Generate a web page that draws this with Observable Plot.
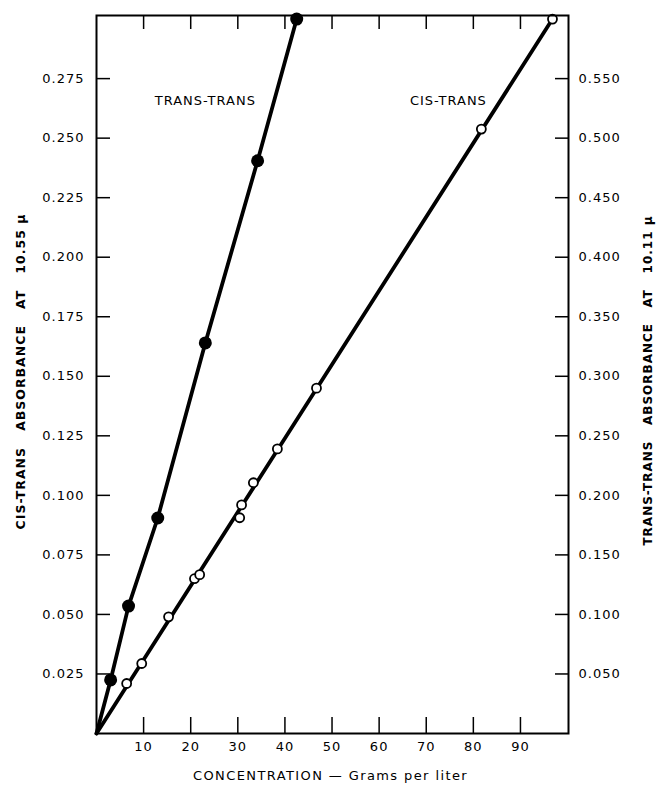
<!DOCTYPE html>
<html>
<head>
<meta charset="utf-8">
<script src="https://cdn.jsdelivr.net/npm/d3@7"></script>
<script src="https://cdn.jsdelivr.net/npm/@observablehq/plot@0.6"></script>
<style>
  html, body { margin: 0; padding: 0; background: #fff; }
  #chart { width: 658px; height: 792px; }
</style>
</head>
<body>
<div id="chart"></div>
<script>
// Trans-trans (filled dots), absorbance at 10.11 µ (right axis)
const ttConc = [3.0, 6.8, 13.0, 23.1, 34.2, 42.5];
const ttAbs = [0.045, 0.107, 0.181, 0.328, 0.481, 0.600];
// Cis-trans (open dots), absorbance at 10.55 µ (left axis)
const ctConc = [6.4, 9.6, 15.3, 20.8, 21.9, 30.4, 30.8, 33.3, 38.4, 46.7, 81.7, 96.8];
const ctAbs = [0.021, 0.0294, 0.049, 0.065, 0.0667, 0.0906, 0.096, 0.1053, 0.1195, 0.145, 0.2538, 0.300];
// Straight cis-trans line endpoints as drawn
const ctLineConc = [0, 96.8];
const ctLineAbs = [0, 0.300];
// Tick values
const xTicks = [10, 20, 30, 40, 50, 60, 70, 80, 90];
const leftTicks = [0.025, 0.050, 0.075, 0.100, 0.125, 0.150, 0.175, 0.200, 0.225, 0.250, 0.275];
const rightTicks = [0.050, 0.100, 0.150, 0.200, 0.250, 0.300, 0.350, 0.400, 0.450, 0.500, 0.550];
// Text
const leftLabel = "CIS-TRANS\u00a0\u00a0\u00a0ABSORBANCE\u00a0\u00a0\u00a0AT\u00a0\u00a0\u00a010.55\u00a0\u03bc";
const rightLabel = "TRANS-TRANS\u00a0\u00a0\u00a0ABSORBANCE\u00a0\u00a0\u00a0AT\u00a0\u00a0\u00a010.11\u00a0\u03bc";
const xLabel = "CONCENTRATION \u2014 Grams per liter";
const seriesLabels = [
  {name: "TRANS-TRANS", conc: 23.1, abs: 0.2655},
  {name: "CIS-TRANS", conc: 74.7, abs: 0.2655}
];

// Right axis is twice the left axis
const ratio = 2;
const tt = ttConc.map((c, i) => ({c, a: ttAbs[i] / ratio}));
const ttLine = [{c: 0, a: 0}, ...tt];
const ct = ctConc.map((c, i) => ({c, a: ctAbs[i]}));
const ctLine = ctLineConc.map((c, i) => ({c, a: ctLineAbs[i]}));

const W = 658, H = 792;
const mL = 96, mR = 90, mT = 15, mB = 59;
const fw = W - mL - mR, fh = H - mT - mB;

const chart = Plot.plot({
  width: W,
  height: H,
  marginLeft: mL,
  marginRight: mR,
  marginTop: mT,
  marginBottom: mB,
  style: {fontFamily: "DejaVu Sans", fontSize: "13px", background: "#fff", color: "#000"},
  x: {domain: [0, 100.2], axis: null},
  y: {domain: [0, 0.3015], axis: null},
  marks: [
    // tick marks (inward)
    Plot.tickY(leftTicks, {y: d => d, insetRight: fw - 14, stroke: "#000", strokeWidth: 1.5}),
    Plot.tickY(rightTicks, {y: d => d / ratio, insetLeft: fw - 13, stroke: "#000", strokeWidth: 1.5}),
    Plot.tickX(xTicks, {x: d => d, insetTop: fh - 16, stroke: "#000", strokeWidth: 1.5}),
    Plot.tickX(xTicks, {x: d => d, insetBottom: fh - 14, stroke: "#000", strokeWidth: 1.5}),
    // axes labels
    Plot.axisY(leftTicks, {anchor: "left", tickSize: 0, tickPadding: 12, tickFormat: d3.format(".3f"), label: null, fontSize: 13}),
    Plot.axisY(rightTicks.map(d => d / ratio), {anchor: "right", tickSize: 0, tickPadding: 10, tickFormat: d => d3.format(".3f")(d * ratio), label: null, fontSize: 13}),
    Plot.axisX(xTicks, {anchor: "bottom", tickSize: 0, tickPadding: 8, label: null, fontSize: 13}),
    // lines
    Plot.line(ttLine, {x: "c", y: "a", stroke: "#000", strokeWidth: 3.8}),
    Plot.line(ctLine, {x: "c", y: "a", stroke: "#000", strokeWidth: 3.8}),
    // dots
    Plot.dot(tt, {x: "c", y: "a", r: 6.5, fill: "#000", stroke: "none"}),
    Plot.dot(ct, {x: "c", y: "a", r: 4.5, fill: "#fff", stroke: "#000", strokeWidth: 1.8}),
    // frame
    Plot.frame({stroke: "#000", strokeWidth: 2}),
    // series labels
    Plot.text(seriesLabels, {x: "conc", y: "abs", text: "name", fontSize: 13, fill: "#000"}),
    // axis titles
    Plot.text([leftLabel], {frameAnchor: "left", textAnchor: "middle", dx: -76, dy: -3, rotate: -90, fontSize: 12.5, fontWeight: "bold", fill: "#000", text: d => d}),
    Plot.text([rightLabel], {frameAnchor: "right", textAnchor: "middle", dx: 80, dy: 6, rotate: -90, fontSize: 12, fontWeight: "bold", fill: "#000", text: d => d}),
    Plot.text([xLabel], {frameAnchor: "bottom", textAnchor: "middle", dx: -2, dy: 46, fontSize: 13, fill: "#000", text: d => d})
  ]
});
document.getElementById("chart").appendChild(chart);
chart.querySelectorAll("text").forEach(t => { t.style.letterSpacing = "1px"; });
chart.querySelectorAll("text").forEach(t => {
  if (t.textContent.startsWith("CONCENTRATION")) t.style.letterSpacing = "1.4px";
});
</script>
</body>
</html>
